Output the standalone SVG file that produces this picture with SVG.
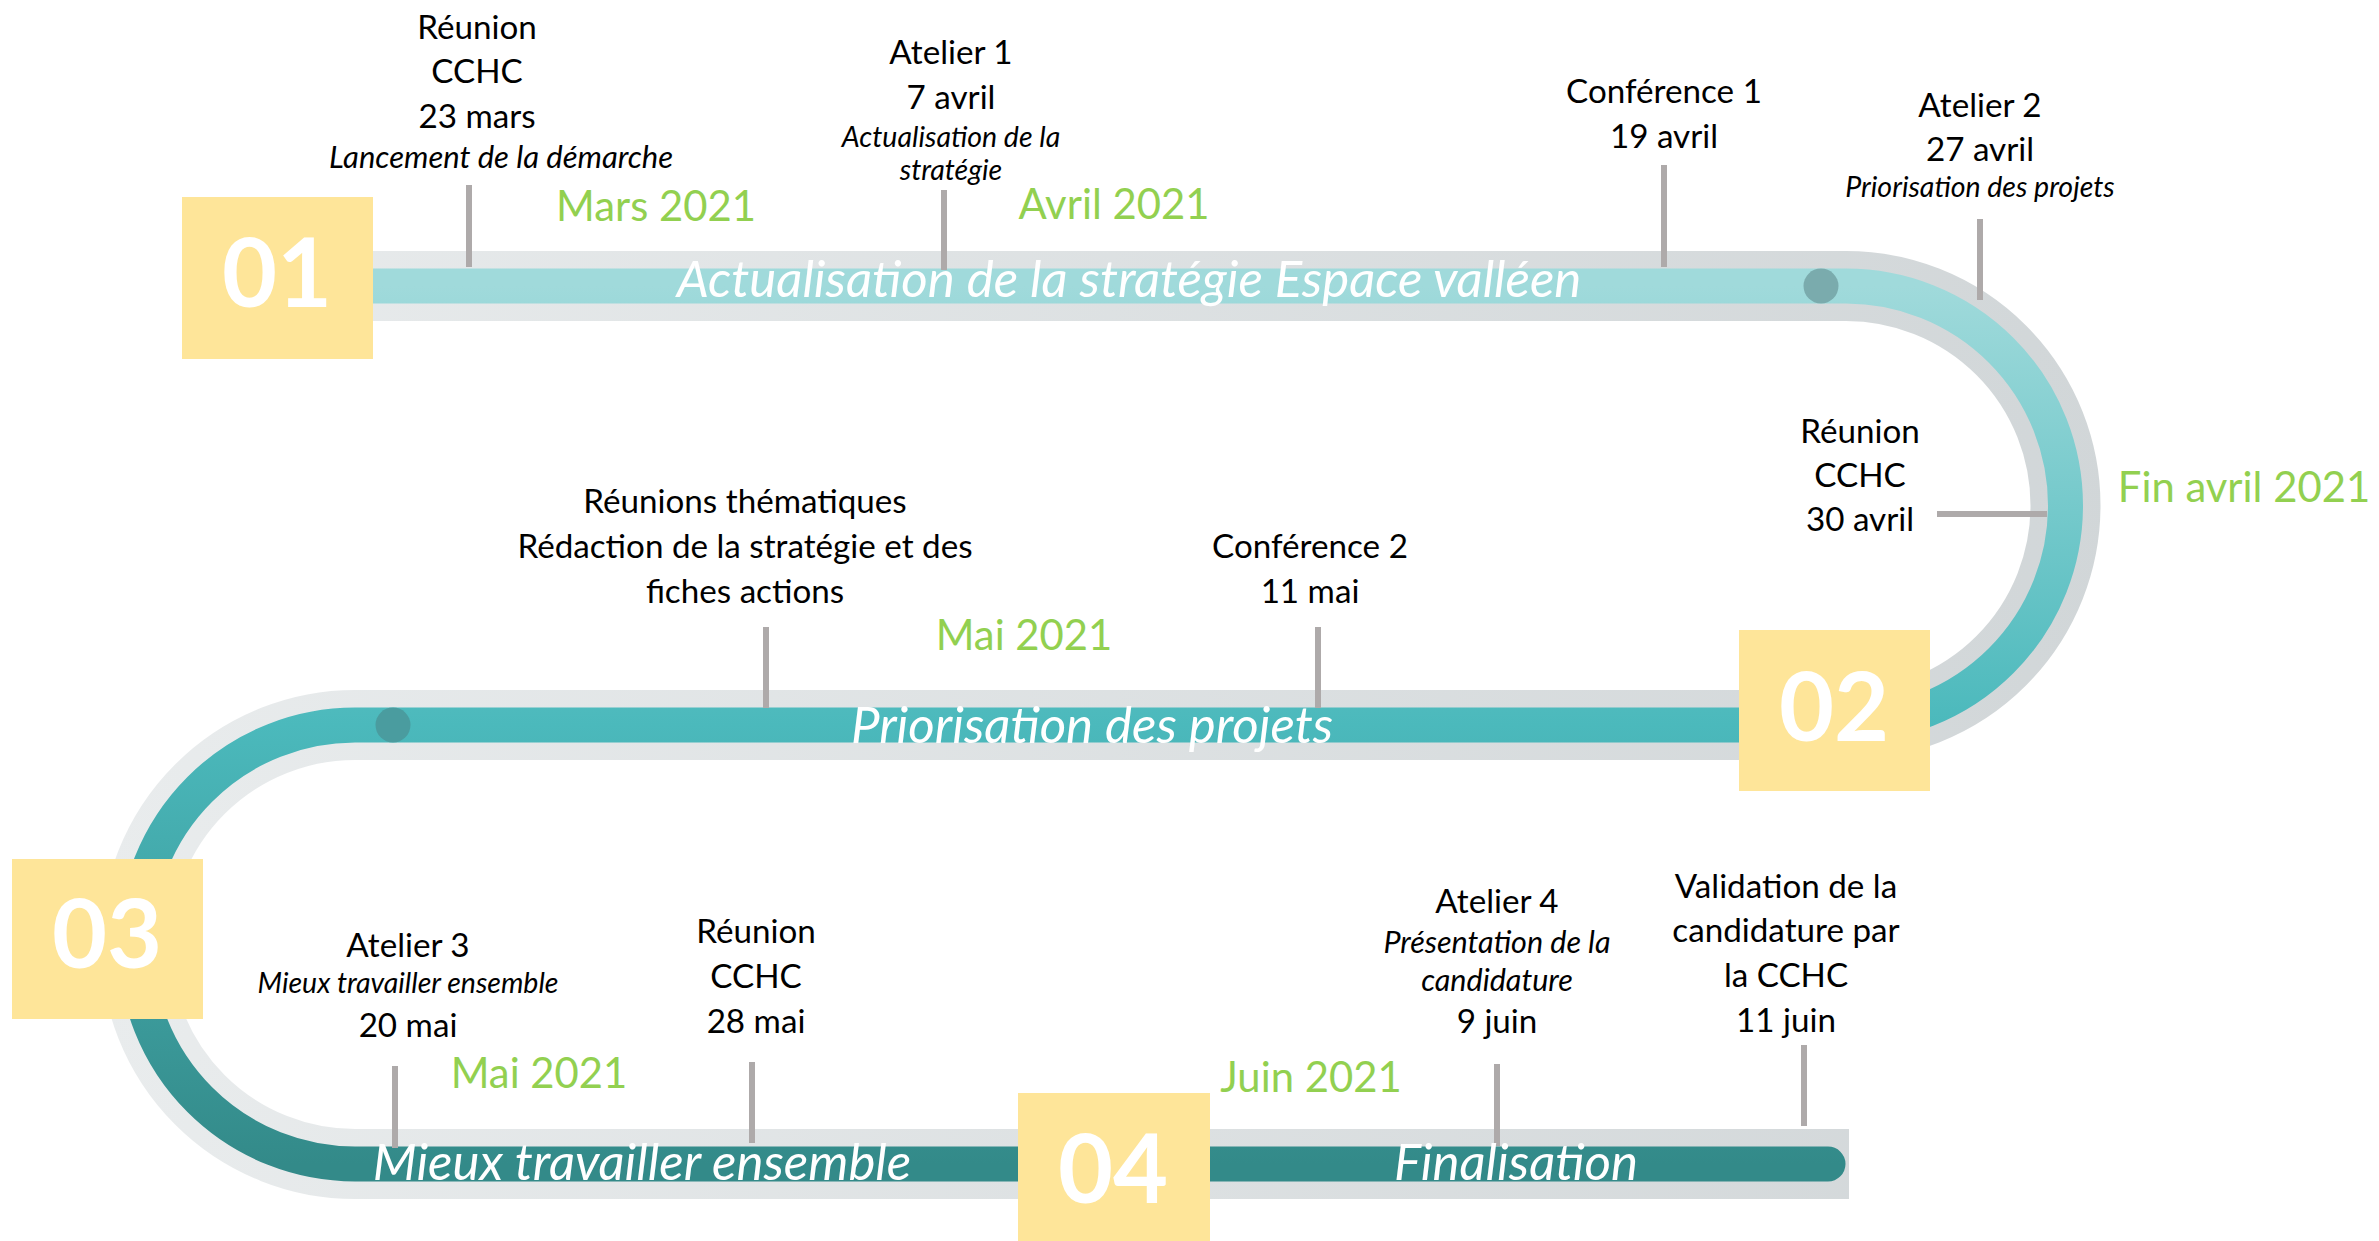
<svg xmlns="http://www.w3.org/2000/svg" width="2379" height="1241" viewBox="0 0 2379 1241">
<style>
.t{font-family:Lato,"Open Sans",sans-serif;font-size:33.2px;fill:#000;text-anchor:middle}
.i{font-family:Lato,"Open Sans",sans-serif;font-size:29px;font-style:italic;fill:#000;text-anchor:middle}
.m{font-family:Lato,"Open Sans",sans-serif;font-size:41.8px;fill:#92d050;text-anchor:middle}
.w{font-family:Lato,"Open Sans",sans-serif;font-size:51px;font-style:italic;fill:#fff;text-anchor:middle}
.n{font-family:Lato,"Open Sans",sans-serif;font-size:95px;font-weight:bold;fill:#fff;text-anchor:middle}
.box{fill:#fee599}
.tick{stroke:#aeaaaa;stroke-width:6;fill:none}
</style>
<defs>
<linearGradient id="gray" gradientUnits="userSpaceOnUse" x1="100" y1="0" x2="2120" y2="0">
<stop offset="0" stop-color="#e9eced"/><stop offset="1" stop-color="#d1d6d8"/>
</linearGradient>
<linearGradient id="teal" gradientUnits="userSpaceOnUse" x1="0" y1="286" x2="0" y2="1164">
<stop offset="0" stop-color="#a0dadb"/><stop offset="0.5" stop-color="#4bb9bc"/><stop offset="1" stop-color="#338a89"/>
</linearGradient>
</defs>
<g id="connectors">
<path d="M300,286 H1846 A219.5,219.5 0 0 1 1846,725 H355 A219.5,219.5 0 0 0 355,1164 H1849" fill="none" stroke="url(#gray)" stroke-width="70"/>
<path d="M300,286 H1846 A219.5,219.5 0 0 1 1846,725 H355 A219.5,219.5 0 0 0 355,1164 H1828" fill="none" stroke="url(#teal)" stroke-width="35" stroke-linecap="round"/>
<circle cx="1821" cy="286" r="17.5" fill="#7aabad"/>
<circle cx="393" cy="725" r="17.5" fill="#4a9c9f"/>
<line class="tick" x1="469" y1="185" x2="469" y2="267"/>
<line class="tick" x1="944" y1="190" x2="944" y2="270"/>
<line class="tick" x1="1664" y1="165" x2="1664" y2="267"/>
<line class="tick" x1="1980" y1="219" x2="1980" y2="300"/>
<line class="tick" x1="1937" y1="514" x2="2047" y2="514"/>
<line class="tick" x1="766" y1="627" x2="766" y2="708"/>
<line class="tick" x1="1318" y1="627" x2="1318" y2="708"/>
<line class="tick" x1="395" y1="1066" x2="395" y2="1148"/>
<line class="tick" x1="752" y1="1062" x2="752" y2="1143"/>
<line class="tick" x1="1497" y1="1064" x2="1497" y2="1146"/>
<line class="tick" x1="1804" y1="1045" x2="1804" y2="1126"/>
</g>
<g id="track-labels">
<text class="w" x="1129" y="297">Actualisation de la stratégie Espace valléen</text>
<text class="w" x="1092" y="743">Priorisation des projets</text>
<text class="w" x="642" y="1180">Mieux travailler ensemble</text>
<text class="w" x="1516" y="1180">Finalisation</text>
</g>
<g id="step01"><rect class="box" x="182" y="197" width="191" height="162"/><text class="n" x="277" y="307">01</text></g>
<g id="step02"><rect class="box" x="1739" y="630" width="191" height="161"/><text class="n" x="1834" y="741">02</text></g>
<g id="step03"><rect class="box" x="12" y="859" width="191" height="160"/><text class="n" x="107" y="968">03</text></g>
<g id="step04"><rect class="box" x="1018" y="1093" width="192" height="162"/><text class="n" x="1113" y="1203">04</text></g>
<g id="months">
<text class="m" x="656" y="221">Mars 2021</text>
<text class="m" x="1114" y="219">Avril 2021</text>
<text class="m" x="2244" y="502">Fin avril 2021</text>
<text class="m" x="1024" y="650">Mai 2021</text>
<text class="m" x="539" y="1088">Mai 2021</text>
<text class="m" x="1311" y="1092">Juin 2021</text>
</g>
<g id="ev-reunion-23mars">
<text class="t" x="477" y="39">Réunion</text>
<text class="t" x="477" y="83">CCHC</text>
<text class="t" x="477" y="128">23 mars</text>
<text class="i" x="501" y="168" style="font-size:31px">Lancement de la démarche</text>
</g>
<g id="ev-atelier1">
<text class="t" x="951" y="64">Atelier 1</text>
<text class="t" x="951" y="109">7 avril</text>
<text class="i" x="951" y="147" style="font-size:28.5px">Actualisation de la</text>
<text class="i" x="951" y="180" style="font-size:28.5px">stratégie</text>
</g>
<g id="ev-conf1">
<text class="t" x="1664" y="103">Conférence 1</text>
<text class="t" x="1664" y="148">19 avril</text>
</g>
<g id="ev-atelier2">
<text class="t" x="1980" y="117">Atelier 2</text>
<text class="t" x="1980" y="161">27 avril</text>
<text class="i" x="1980" y="197" style="font-size:28.5px">Priorisation des projets</text>
</g>
<g id="ev-reunion-30avril">
<text class="t" x="1860" y="443">Réunion</text>
<text class="t" x="1860" y="487">CCHC</text>
<text class="t" x="1860" y="531">30 avril</text>
</g>
<g id="ev-reunions-thematiques">
<text class="t" x="745" y="513">Réunions thématiques</text>
<text class="t" x="745" y="558">Rédaction de la stratégie et des</text>
<text class="t" x="745" y="603">fiches actions</text>
</g>
<g id="ev-conf2">
<text class="t" x="1310" y="558">Conférence 2</text>
<text class="t" x="1310" y="603">11 mai</text>
</g>
<g id="ev-atelier3">
<text class="t" x="408" y="957">Atelier 3</text>
<text class="i" x="408" y="993" style="font-size:28.5px">Mieux travailler ensemble</text>
<text class="t" x="408" y="1037">20 mai</text>
</g>
<g id="ev-reunion-28mai">
<text class="t" x="756" y="943">Réunion</text>
<text class="t" x="756" y="988">CCHC</text>
<text class="t" x="756" y="1033">28 mai</text>
</g>
<g id="ev-atelier4">
<text class="t" x="1497" y="913">Atelier 4</text>
<text class="i" x="1497" y="953" style="font-size:30.5px">Présentation de la</text>
<text class="i" x="1497" y="991" style="font-size:30.5px">candidature</text>
<text class="t" x="1497" y="1033">9 juin</text>
</g>
<g id="ev-validation">
<text class="t" x="1786" y="898">Validation de la</text>
<text class="t" x="1786" y="942">candidature par</text>
<text class="t" x="1786" y="987">la CCHC</text>
<text class="t" x="1786" y="1032">11 juin</text>
</g>
</svg>
